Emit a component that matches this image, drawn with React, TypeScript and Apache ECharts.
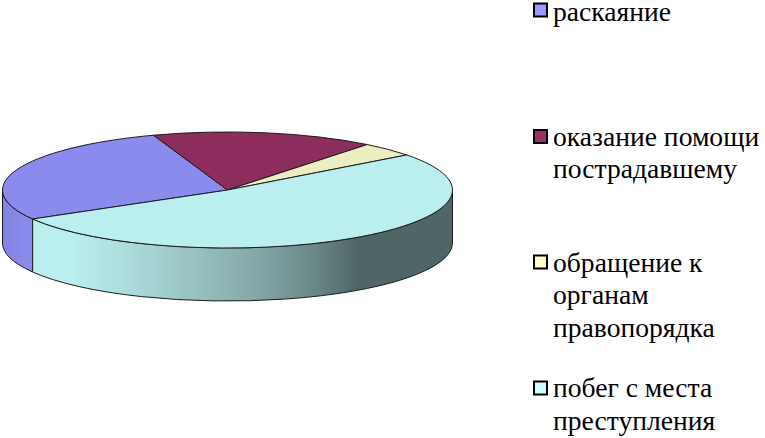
import React, { useEffect, useRef } from "react";
import * as echarts from "echarts";

const categories = ["раскаяние", "оказание помощи пострадавшему", "обращение к органам правопорядка", "побег с места преступления"];
const legendLabels = ["раскаяние", "оказание помощи\nпострадавшему", "обращение к\nорганам\nправопорядка", "побег с места\nпреступления"];
const values = [28, 16, 4, 52];
const topColors = ["#8b8bee", "#8c2d5d", "#ecedc0", "#bbeeee"];
const legendColors = ["#9999ff", "#993366", "#ffffcc", "#ccffff"];

const CX = 227.5, CY = 190, RX = 225, RY = 58, DEPTH = 53;
const START_ANGLE = 240; // clockwise from 12 o'clock
const total = values.reduce((a, b) => a + b, 0);

// Horizontal shading of the rim: [offset across the pie, brightness].
const SHADE: [number, number][] = [
  [0, 0.94], [0.06, 1], [0.157, 1], [0.283, 0.92], [0.454, 0.79],
  [0.579, 0.69], [0.69, 0.57], [0.788, 0.43], [1, 0.43],
];
const shade = (hex: string, f: number) => {
  const n = parseInt(hex.slice(1), 16);
  const c = [(n >> 16) & 255, (n >> 8) & 255, n & 255].map((v) => Math.round(v * f));
  return `rgb(${c[0]},${c[1]},${c[2]})`;
};

const pt = (deg: number, dy = 0) => {
  const r = ((deg - 90) * Math.PI) / 180;
  return [CX + RX * Math.cos(r), CY + RY * Math.sin(r) + dy];
};
const arcTo = (deg: number, large: boolean, sweep: number, dy = 0) => {
  const p = pt(deg, dy);
  return `A ${RX} ${RY} 0 ${large ? 1 : 0} ${sweep} ${p[0]} ${p[1]}`;
};
const sliceRange = (i: number) => {
  const before = values.slice(0, i).reduce((a, b) => a + b, 0);
  return [START_ANGLE + (before / total) * 360, START_ANGLE + ((before + values[i]) / total) * 360];
};

const renderTop = (params: any, api: any) => {
  const i = params.dataIndex;
  api.value(0);
  const [a, b] = sliceRange(i);
  const s = pt(a);
  const d = `M ${CX} ${CY} L ${s[0]} ${s[1]} ${arcTo(b, b - a > 180, 1)} Z`;
  return {
    type: "path",
    shape: { pathData: d },
    style: { fill: topColors[i], stroke: "#1c1c1c", lineWidth: 1 },
  };
};

// Visible front of the rim: clock angles between 90 and 270 (mod 360).
const renderWall = (params: any, api: any) => {
  const i = params.dataIndex;
  api.value(0);
  const [a, b] = sliceRange(i);
  const pieces: any[] = [];
  for (const k of [-360, 0, 360]) {
    const lo = Math.max(a, 90 + k);
    const hi = Math.min(b, 270 + k);
    if (hi <= lo) continue;
    const p0 = pt(lo);
    const p1 = pt(hi, DEPTH);
    const d = `M ${p0[0]} ${p0[1]} ${arcTo(hi, false, 1)} L ${p1[0]} ${p1[1]} ${arcTo(lo, false, 0, DEPTH)} Z`;
    pieces.push({
      type: "path",
      shape: { pathData: d },
      style: {
        fill: new echarts.graphic.LinearGradient(
          CX - RX, 0, CX + RX, 0,
          SHADE.map(([offset, f]) => ({ offset, color: shade(topColors[i], f) })),
          true,
        ),
        stroke: "#1c1c1c",
        lineWidth: 1,
      },
    });
  }
  return { type: "group", children: pieces };
};

const legendTops = [11.5, 136, 262, 387.5];
const markTops = [3.5, 130, 255.5, 381.5];
const MARK_X = 534, LABEL_X = 553, MARK = 13, LINE = 32.5;

export default function App() {
  const ref = useRef<HTMLDivElement>(null);
  useEffect(() => {
    const chart = echarts.init(ref.current!, null, { renderer: "svg" });
    const graphic: any[] = [];
    legendLabels.forEach((label, i) => {
      const lh = i === 0 ? 23 : LINE;
      graphic.push({
        type: "rect",
        shape: { x: MARK_X, y: markTops[i], width: MARK, height: MARK },
        style: { fill: legendColors[i], stroke: "#000", lineWidth: 2 },
      });
      graphic.push({
        type: "text",
        x: LABEL_X,
        y: legendTops[i] - lh / 2,
        style: {
          text: label,
          fill: "#000",
          font: "27.6px 'Liberation Serif', serif",
          lineHeight: lh,
          verticalAlign: "top",
          align: "left",
        },
      });
    });
    const seriesData = categories.map((name, i) => ({ name, value: values[i] }));
    chart.setOption({
      animation: false,
      graphic,
      series: [
        { type: "custom", coordinateSystem: "none", renderItem: renderWall, data: seriesData, silent: true, z: 1 },
        { type: "custom", coordinateSystem: "none", renderItem: renderTop, data: seriesData, silent: true, z: 2 },
      ],
    });
    return () => chart.dispose();
  }, []);
  return <div ref={ref} style={{ position: "absolute", left: 0, top: 0, width: 765, height: 438 }} />;
}
